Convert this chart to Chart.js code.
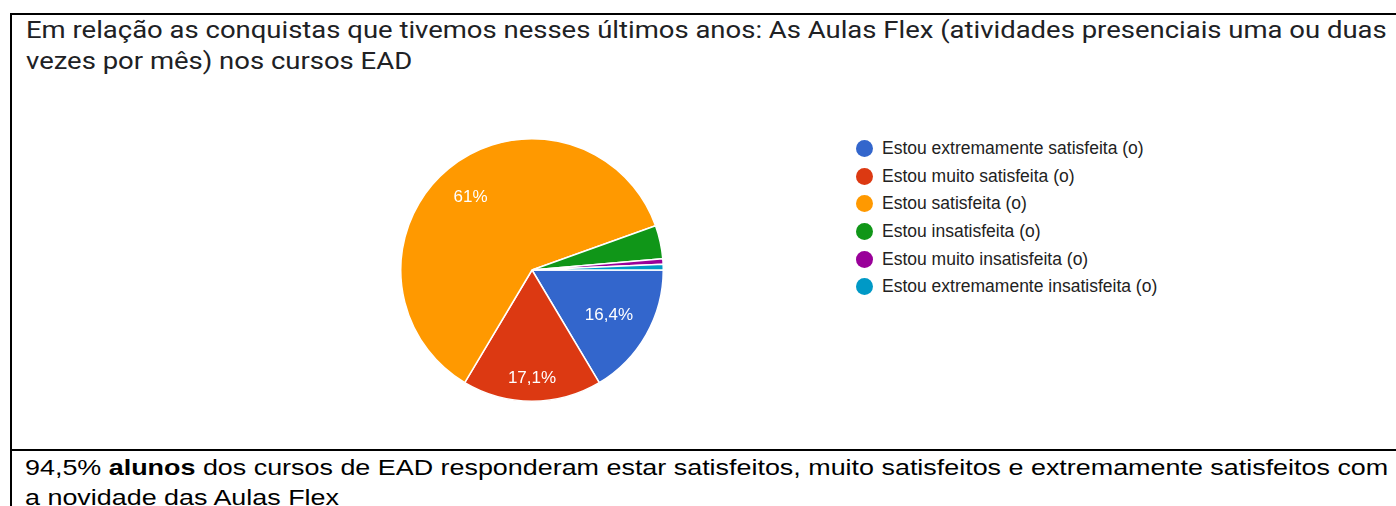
<!DOCTYPE html>
<html>
<head>
<meta charset="utf-8">
<script src="https://cdn.jsdelivr.net/npm/chart.js"></script>
<style>
  body { margin: 0; width: 1396px; height: 506px; overflow: hidden; background: #fff; position: relative; }
  .rule { position: absolute; background: #000; }
  #title { position: absolute; left: 26px; top: 15px; font: 24px Roboto, sans-serif; color: #202124; line-height: 30.5px; white-space: nowrap; }
  #title div, #note div { transform-origin: 0 0; }
  #title span, #note span.line { display: inline-block; white-space: nowrap; }
  #pieBox { position: absolute; left: 400px; top: 138px; width: 264px; height: 264px; }
  #legend { position: absolute; left: 856px; top: 135px; margin: 0; padding: 0; list-style: none;
            font: 17.5px "Liberation Sans", Arial, sans-serif; color: #222; }
  #legend li { height: 27.6px; display: flex; align-items: center; white-space: nowrap; }
  #legend span.dot { width: 17px; height: 17px; border-radius: 50%; margin-right: 9px; flex: none; }
  #note { position: absolute; left: 25px; top: 453px; font: 22px "Liberation Sans", Arial, sans-serif;
          color: #000; line-height: 30px; white-space: nowrap; }
</style>
</head>
<body>
<div class="rule" style="left:10px;top:13px;width:1386px;height:2px"></div>
<div class="rule" style="left:10px;top:13px;width:2px;height:493px"></div>
<div class="rule" style="left:10px;top:449px;width:1386px;height:2px"></div>

<div id="title">
  <div><span>Em relação as conquistas que tivemos nesses últimos anos: As Aulas Flex (atividades presenciais uma ou duas</span></div>
  <div><span>vezes por mês) nos cursos EAD</span></div>
</div>

<div id="pieBox"><canvas id="pie" width="264" height="264"></canvas></div>
<ul id="legend"></ul>

<div id="note">
  <div><span class="line">94,5% <b>alunos</b> dos cursos de EAD responderam estar satisfeitos, muito satisfeitos e extremamente satisfeitos com</span></div>
  <div><span class="line">a novidade das Aulas Flex</span></div>
</div>

<script>
const categories = [
  'Estou extremamente satisfeita (o)',
  'Estou muito satisfeita (o)',
  'Estou satisfeita (o)',
  'Estou insatisfeita (o)',
  'Estou muito insatisfeita (o)',
  'Estou extremamente insatisfeita (o)'
];
const responses = [24, 25, 89, 6, 1, 1];
const sliceColors = ['#3366cc', '#dc3912', '#ff9900', '#109618', '#990099', '#0099c6'];

// percent labels inside the big slices, google forms style
const sliceLabels = {
  id: 'sliceLabels',
  afterDatasetsDraw(chart) {
    const ctx = chart.ctx;
    const meta = chart.getDatasetMeta(0);
    const total = responses.reduce((a, b) => a + b, 0);
    ctx.save();
    ctx.font = '17px "Liberation Sans", Arial, sans-serif';
    ctx.fillStyle = '#fff';
    ctx.textAlign = 'center';
    ctx.textBaseline = 'middle';
    meta.data.forEach((arc, i) => {
      const pct = responses[i] / total * 100;
      if (pct < 5) return;
      const txt = String(Math.round(pct * 10) / 10).replace('.', ',') + '%';
      const p = arc.getProps(['x', 'y', 'startAngle', 'endAngle', 'outerRadius'], true);
      const mid = (p.startAngle + p.endAngle) / 2;
      const hw = ctx.measureText(txt).width / 2;
      const hh = 7;
      const d = p.outerRadius * 0.86 - (hw * Math.abs(Math.cos(mid)) + hh * Math.abs(Math.sin(mid)));
      ctx.fillText(txt, p.x + Math.cos(mid) * d, p.y + Math.sin(mid) * d + 2);
    });
    ctx.restore();
  }
};

// the scanned page is a bit stretched sideways, so squeeze/stretch text rows to the widths seen
function fitRows(boxId, width) {
  const rows = document.querySelectorAll('#' + boxId + ' > div');
  const first = rows[0].querySelector('span');
  const k = width / first.offsetWidth;
  rows.forEach(r => { r.style.transform = 'scaleX(' + k + ')'; });
}

window.onload = () => {
  const ctx = document.getElementById('pie').getContext('2d');
  new Chart(ctx, {
    type: 'pie',
    data: {
      labels: categories,
      datasets: [{
        data: responses,
        backgroundColor: sliceColors,
        borderColor: '#fff',
        borderWidth: 1.5
      }]
    },
    options: {
      responsive: false,
      animation: false,
      rotation: 90,
      layout: { padding: 0 },
      plugins: {
        legend: { display: false },
        tooltip: { enabled: false }
      }
    },
    plugins: [sliceLabels]
  });

  const legend = document.getElementById('legend');
  categories.forEach((name, i) => {
    const li = document.createElement('li');
    const dot = document.createElement('span');
    dot.className = 'dot';
    dot.style.background = sliceColors[i];
    li.appendChild(dot);
    li.appendChild(document.createTextNode(name));
    legend.appendChild(li);
  });

  fitRows('title', 1361);
  fitRows('note', 1363);
};
</script>
</body>
</html>
